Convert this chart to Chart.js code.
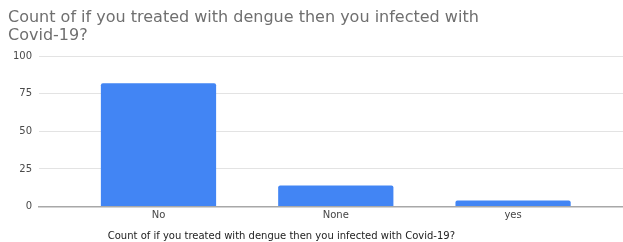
<!DOCTYPE html>
<html>
<head>
<meta charset="utf-8">
<script src="https://cdn.jsdelivr.net/npm/chart.js@4/dist/chart.umd.min.js"></script>
<style>
  html, body { margin: 0; padding: 0; background: #ffffff; }
  #wrap { width: 623px; height: 242px; position: relative; }
</style>
</head>
<body>
<div id="wrap"><canvas id="c"></canvas></div>
<script>
const titleLines = ["Count of if you treated with dengue then you infected with", "Covid-19?"];
const xAxisTitle = "Count of if you treated with dengue then you infected with Covid-19?";
const categories = ["No", "None", "yes"];
const counts = [82, 14, 4];
const yTicks = [0, 25, 50, 75, 100];

const FONT = "'DejaVu Sans', 'Liberation Sans', Arial, sans-serif";

const axisTitlePlugin = {
  id: 'axisTitlePlugin',
  afterDraw(chart) {
    const { ctx, chartArea } = chart;
    ctx.save();
    ctx.font = "10px " + FONT;
    ctx.fillStyle = '#222222';
    ctx.textAlign = 'center';
    ctx.textBaseline = 'middle';
    const x = chartArea.left + (chartArea.right - chartArea.left) * 0.415;
    ctx.fillText(xAxisTitle, x, chart.height - 5.5);
    ctx.restore();
  }
};

new Chart(document.getElementById('c'), {
  type: 'bar',
  data: {
    datasets: [{
      label: xAxisTitle,
      data: categories.map((c, i) => ({ x: i, y: counts[i] })),
      backgroundColor: '#4285F4',
      borderColor: '#4285F4',
      borderWidth: 0,
      borderRadius: { topLeft: 2, topRight: 2, bottomLeft: 0, bottomRight: 0 },
      borderSkipped: 'bottom',
      categoryPercentage: 1,
      barPercentage: 0.65
    }]
  },
  options: {
    responsive: true,
    maintainAspectRatio: false,
    animation: false,
    layout: { padding: { left: 8, right: 0, top: 0, bottom: 17.5 } },
    plugins: {
      legend: { display: false },
      tooltip: { enabled: false },
      title: {
        display: true,
        text: titleLines,
        align: 'start',
        color: '#6f6f6f',
        font: { family: FONT, size: 16, weight: 'normal', lineHeight: 1.12 },
        padding: { top: 9, bottom: 11.5 }
      }
    },
    scales: {
      x: {
        type: 'linear',
        offset: false,
        min: -0.674,
        max: 2.62,
        grid: { display: false, drawTicks: false, offset: false },
        border: { display: true, color: '#a8a8a8', width: 1.5 },
        afterBuildTicks(scale) { scale.ticks = categories.map((c, i) => ({ value: i })); },
        ticks: {
          color: '#444444',
          font: { family: FONT, size: 10 },
          padding: 3,
          autoSkip: false,
          maxRotation: 0,
          callback: (v) => categories[v]
        }
      },
      y: {
        min: 0,
        max: 100,
        afterBuildTicks(scale) { scale.ticks = yTicks.map(v => ({ value: v })); },
        afterFit(scale) { scale.width = 31; },
        grid: { color: '#e3e3e3', lineWidth: 1, drawTicks: false },
        border: { display: false },
        ticks: {
          color: '#4a4a4a',
          font: { family: FONT, size: 10 },
          padding: 7
        }
      }
    }
  },
  plugins: [axisTitlePlugin]
});
</script>
</body>
</html>
